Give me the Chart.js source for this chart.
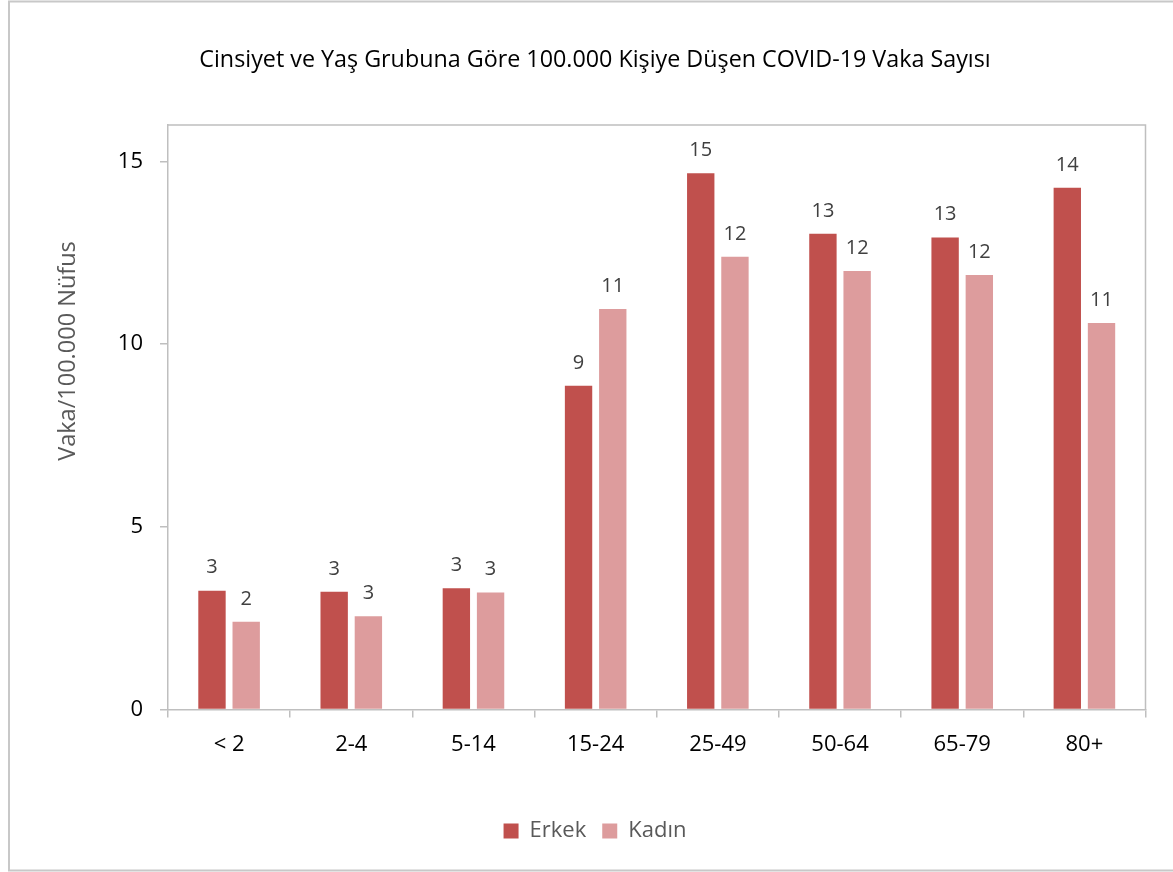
<!DOCTYPE html>
<html lang="tr">
<head>
<meta charset="utf-8">
<title>COVID-19 Vaka Sayısı</title>
<script src="https://cdn.jsdelivr.net/npm/chart.js@4/dist/chart.umd.min.js"></script>
<style>
  html, body { margin: 0; padding: 0; background: #fff; }
  .chart-box { position: relative; width: 1173px; height: 872px; }
</style>
</head>
<body>
<div class="chart-box"><canvas id="vaka-chart"></canvas></div>
<script>
const categories = ["< 2", "2-4", "5-14", "15-24", "25-49", "50-64", "65-79", "80+"];
const erkekValues = [3.25, 3.22, 3.32, 8.86, 14.68, 13.02, 12.92, 14.28];
const kadinValues = [2.4, 2.55, 3.2, 10.96, 12.39, 12.0, 11.89, 10.58];
const yTicks = [0, 5, 10, 15];
const chartTitle = "Cinsiyet ve Yaş Grubuna Göre 100.000 Kişiye Düşen COVID-19 Vaka Sayısı";
const yAxisTitle = "Vaka/100.000 Nüfus";

const fontFamily = "'Open Sans', 'DejaVu Sans', sans-serif";
const axisColor = "#bfbfbf";

// frame around the whole picture and around the plot area
const framePlugin = {
  id: "frames",
  afterDraw(chart) {
    const ctx = chart.ctx;
    const area = chart.chartArea;
    ctx.save();
    ctx.strokeStyle = "#c8c8c8";
    ctx.lineWidth = 2;
    ctx.beginPath();
    ctx.moveTo(1173, 1.5);
    ctx.lineTo(9, 1.5);
    ctx.lineTo(9, 870.5);
    ctx.lineTo(1173, 870.5);
    ctx.stroke();
    ctx.strokeStyle = axisColor;
    ctx.lineWidth = 1.5;
    ctx.beginPath();
    ctx.moveTo(area.left, area.top);
    ctx.lineTo(area.right, area.top);
    ctx.lineTo(area.right, area.bottom);
    ctx.stroke();
    ctx.restore();
  },
};

// rounded value above each bar, plus the rotated y title
const labelPlugin = {
  id: "barLabels",
  afterDatasetsDraw(chart) {
    const ctx = chart.ctx;
    ctx.save();
    ctx.font = "20px " + fontFamily;
    ctx.fillStyle = "#404040";
    ctx.textAlign = "center";
    ctx.textBaseline = "middle";
    chart.data.datasets.forEach((dataset, i) => {
      chart.getDatasetMeta(i).data.forEach((bar, index) => {
        ctx.fillText(Math.round(dataset.data[index]), bar.x, bar.y - 23);
      });
    });
    ctx.translate(68, 351);
    ctx.rotate(-Math.PI / 2);
    ctx.font = "23.5px " + fontFamily;
    ctx.fillStyle = "#595959";
    ctx.fillText(yAxisTitle, 0, 0);
    ctx.restore();
  },
};

const chartCanvas = document.getElementById("vaka-chart");
new Chart(chartCanvas, {
  type: "bar",
  data: {
    labels: categories,
    datasets: [
      {
        label: "Erkek",
        data: erkekValues,
        backgroundColor: "#c0504d",
        categoryPercentage: 0.56,
        barPercentage: 0.8,
      },
      {
        label: "Kadın",
        data: kadinValues,
        backgroundColor: "#dd9c9d",
        categoryPercentage: 0.56,
        barPercentage: 0.8,
      },
    ],
  },
  options: {
    responsive: true,
    maintainAspectRatio: false,
    animation: false,
    layout: {
      padding: { left: 44.5, right: 27.5, top: 0, bottom: 20 },
    },
    plugins: {
      title: {
        display: true,
        text: chartTitle,
        color: "#000",
        font: { family: fontFamily, size: 23.3, weight: "normal", lineHeight: 1.2 },
        padding: { top: 46, bottom: 51 },
      },
      legend: {
        position: "bottom",
        labels: {
          boxWidth: 15,
          boxHeight: 15,
          padding: 16,
          color: "#595959",
          font: { family: fontFamily, size: 22 },
        },
      },
      tooltip: { enabled: false },
    },
    scales: {
      x: {
        afterFit: (scale) => {
          scale.height = 94.5;
        },
        grid: {
          offset: true,
          drawOnChartArea: false,
          tickLength: 8,
          color: axisColor,
          lineWidth: 1.5,
        },
        border: { color: axisColor, width: 1.5 },
        ticks: {
          color: "#000",
          padding: 14,
          font: { family: fontFamily, size: 22 },
        },
      },
      y: {
        min: 0,
        max: 16,
        afterFit: (scale) => {
          scale.width = 123.5;
        },
        afterBuildTicks: (scale) => {
          scale.ticks = yTicks.map((v) => ({ value: v }));
        },
        grid: {
          drawOnChartArea: false,
          tickLength: 8,
          color: axisColor,
          lineWidth: 1.5,
        },
        border: { color: axisColor, width: 1.5 },
        ticks: {
          color: "#000",
          padding: 17,
          font: { family: fontFamily, size: 22 },
        },
      },
    },
  },
  plugins: [framePlugin, labelPlugin],
});
</script>
</body>
</html>
